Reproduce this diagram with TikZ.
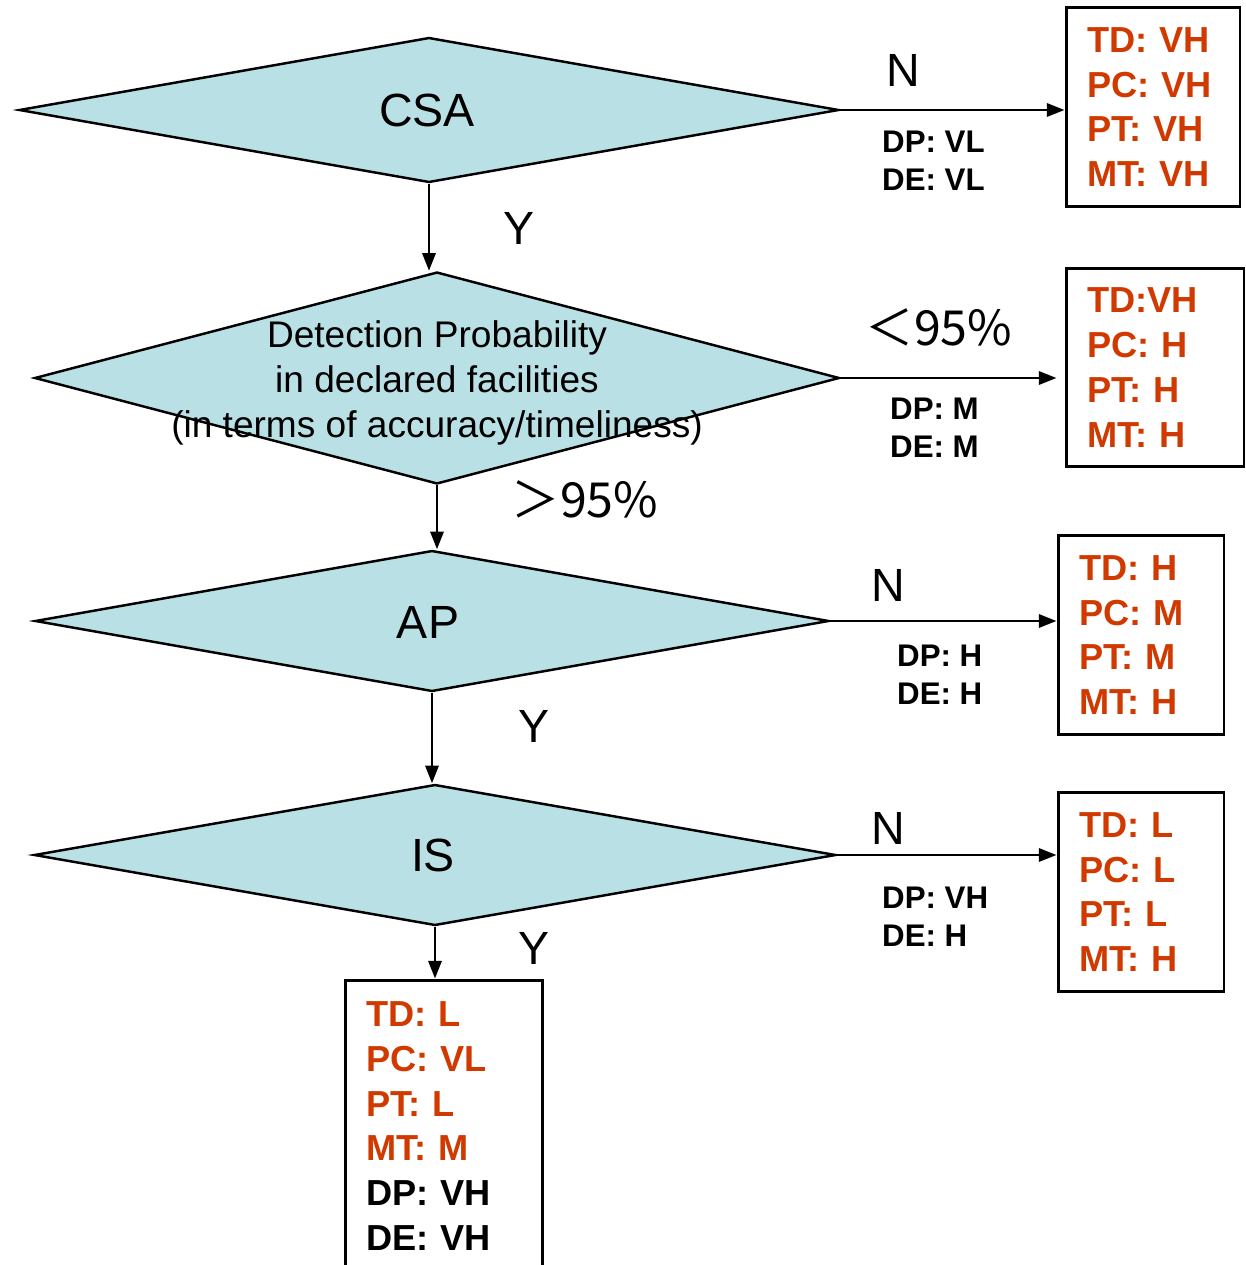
\documentclass[tikz,border=0pt]{standalone}
\usepackage{fontspec}
\setmainfont{Liberation Sans}
\newfontfamily\cjk{Noto Sans CJK SC}
\usepackage{tikz}
\usetikzlibrary{shapes.geometric, positioning, arrows.meta}
\definecolor{decfill}{RGB}{185,224,228}
\definecolor{valred}{RGB}{208,58,0}

\tikzset{
	decision/.style={diamond, draw, line width=1.4pt, fill=decfill, inner sep=0pt},
	valbox/.style={rectangle, draw, line width=1.7pt, inner xsep=0.42cm, align=left,
		font=\fontsize{20.6}{25.5}\selectfont\bfseries, text=valred},
	costlbl/.style={align=left, anchor=west, font=\fontsize{17.8}{21.5}\selectfont\bfseries},
	biglbl/.style={font=\fontsize{26.5}{30}\selectfont},
	pctlbl/.style={font=\cjk\fontsize{27.5}{30}\selectfont}
}

\begin{document}
\begin{tikzpicture}[x=0.02cm, y=-0.02cm, >={Triangle[length=10pt, width=7.5pt]}]
		\useasboundingbox (0,0) rectangle (1245,1265);
		
		% decisions
		\node[decision, minimum width=16.4cm, minimum height=2.9cm] (csa) at (429,110) {};
		\node[biglbl] (csaTxt) at (427,110) {CSA};
		
		\node[decision, minimum width=16.1cm, minimum height=4.24cm] (prob) at (437,378) {};
		\node[align=center, font=\fontsize{21.1}{25.5}\selectfont] (probTxt) at (437,383)
			{Detection Probability\\ in declared facilities\\ (in terms of accuracy/timeliness)};
		
		\node[decision, minimum width=15.88cm, minimum height=2.82cm] (ap) at (432,621) {};
		\node[biglbl] (apTxt) at (428,622) {AP};
		
		\node[decision, minimum width=16.04cm, minimum height=2.82cm] (insp) at (435,855) {};
		\node[biglbl] (inspTxt) at (433,855) {IS};
		
		% value boxes
		\node[valbox, text width=2.64cm, minimum height=4cm] (csaBox) at (1153,107)
			{TD: VH\\ PC: VH\\ PT: VH\\ MT: VH};
		\node[valbox, text width=2.72cm, minimum height=3.98cm] (probBox) at (1155,367.5)
			{TD:VH\\ PC: H\\ PT: H\\ MT: H};
		\node[valbox, text width=2.48cm, minimum height=4cm] (apBox) at (1141,635)
			{TD: H\\ PC: M\\ PT: M\\ MT: H};
		\node[valbox, text width=2.48cm, minimum height=4cm] (inspBox) at (1141,892)
			{TD: L\\ PC: L\\ PT: L\\ MT: H};
		\node[valbox, text width=3.12cm, minimum height=5.84cm] (endBox) at (444,1126)
			{TD: L\\ PC: VL\\ PT: L\\ MT: M\\ \textcolor{black}{DP: VH}\\ \textcolor{black}{DE: VH}};
		
		% horizontal arrows
		\draw[->, line width=1.4pt] (csa.east) -- (csaBox.west |- csa.east);
		\draw[->, line width=1.4pt] (prob.east) -- ([xshift=-0.16cm]probBox.west |- prob.east);
		\draw[->, line width=1.4pt] (ap.east) -- (apBox.west |- ap.east);
		\draw[->, line width=1.4pt] (insp.east) -- (inspBox.west |- insp.east);
		
		% vertical arrows
		\draw[->, line width=1.4pt] (csa.south) -- (csa.south |- prob.north);
		\draw[->, line width=1.4pt] (prob.south) -- (prob.south |- ap.north);
		\draw[->, line width=1.4pt] (ap.south) -- (ap.south |- insp.north);
		\draw[->, line width=1.4pt] (insp.south) -- (insp.south |- endBox.north);
		
		% branch labels
		\node[biglbl] (csaN) at (903,70) {N};
		\node[biglbl] (csaY) at (519,228) {Y};
		\node[pctlbl] (probLow) at (939,327) {＜95\%};
		\node[pctlbl] (probHigh) at (585,499) {＞95\%};
		\node[biglbl] (apN) at (888,585) {N};
		\node[biglbl] (apY) at (534,726) {Y};
		\node[biglbl] (inspN) at (888,828) {N};
		\node[biglbl] (inspY) at (534,948) {Y};
		
		% DP / DE values
		\node[costlbl] (csaCost) at (876,161) {DP: VL\\ DE: VL};
		\node[costlbl] (probCost) at (884,428) {DP: M\\ DE: M};
		\node[costlbl] (apCost) at (891,675) {DP: H\\ DE: H};
		\node[costlbl] (inspCost) at (876,917) {DP: VH\\ DE: H};
		
	\end{tikzpicture}
\end{document}
